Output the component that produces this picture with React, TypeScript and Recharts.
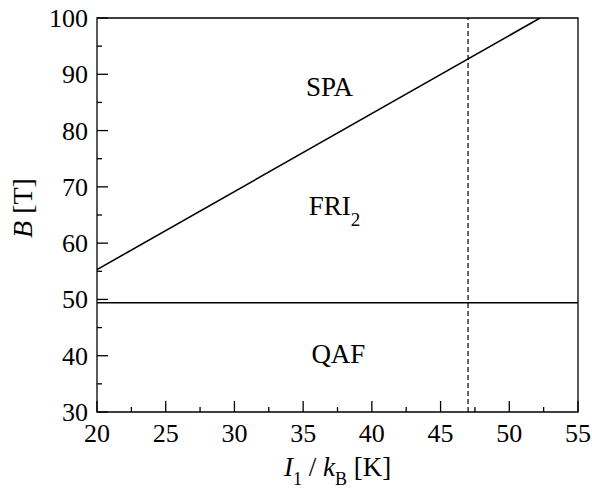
import {
  ComposedChart,
  Line,
  Scatter,
  XAxis,
  YAxis,
  ReferenceLine,
  ReferenceArea,
  Label,
} from "recharts";

// phase boundary FRI2 / SPA
const boundaryI = [20, 52.24];
const boundaryB = [55.3, 100];
// QAF / FRI2 boundary and the dashed marker
const qafLevelB = 49.4;
const dashedI = 47;

const regionNames = ["SPA", "FRI", "QAF"];
const regionSubs = ["", "2", ""];
const regionI = [35.2, 35.4, 35.6];
const regionB = [86.1, 65.0, 38.7];

const xTicks = [20, 22.5, 25, 27.5, 30, 32.5, 35, 37.5, 40, 42.5, 45, 47.5, 50, 52.5, 55];
const yTicks = [30, 35, 40, 45, 50, 55, 60, 65, 70, 75, 80, 85, 90, 95, 100];

const FONT = "'Times New Roman', 'Liberation Serif', Tinos, 'DejaVu Serif', serif";
const txt = (size: number) => ({ fontFamily: FONT, fontSize: size, fill: "#000" });

const lineData = boundaryI.map((i, k) => ({ i, b: boundaryB[k] }));
const labelData = regionNames.map((name, k) => ({
  name,
  sub: regionSubs[k],
  i: regionI[k],
  b: regionB[k],
}));

function XTick({ x, y, payload }: any) {
  const v = payload.value;
  const major = v % 5 === 0;
  return (
    <g>
      <line x1={x} x2={x} y1={y} y2={y - (major ? 11 : 5)} stroke="#000" strokeWidth={1.3} />
      {major && (
        <text x={x} y={y + 30} textAnchor="middle" style={txt(26)}>
          {v}
        </text>
      )}
    </g>
  );
}

function YTick({ x, y, payload }: any) {
  const v = payload.value;
  const major = v % 10 === 0;
  return (
    <g>
      <line x1={x} x2={x + (major ? 11 : 5)} y1={y} y2={y} stroke="#000" strokeWidth={1.3} />
      {major && (
        <text x={x - 9} y={y + 9} textAnchor="end" style={txt(26)}>
          {v}
        </text>
      )}
    </g>
  );
}

function RegionLabel({ cx, cy, payload }: any) {
  return (
    <text x={cx} y={cy} style={txt(27)}>
      {payload.name}
      {payload.sub && (
        <tspan dy={11} style={{ fontSize: 19 }}>
          {payload.sub}
        </tspan>
      )}
    </text>
  );
}

function XTitle({ viewBox }: any) {
  const cx = viewBox.x + viewBox.width / 2;
  const y = viewBox.y + 64;
  return (
    <text x={cx} y={y} textAnchor="middle" style={txt(27)}>
      <tspan fontStyle="italic">I</tspan>
      <tspan style={{ fontSize: 18 }} dy={9}>1</tspan>
      <tspan dy={-9}> / </tspan>
      <tspan fontStyle="italic">k</tspan>
      <tspan style={{ fontSize: 18 }} dy={9}>B</tspan>
      <tspan dy={-9}> [K]</tspan>
    </text>
  );
}

function YTitle({ viewBox }: any) {
  const cx = viewBox.x + 22;
  const cy = viewBox.y + viewBox.height / 2 - 7;
  return (
    <text
      x={cx}
      y={cy}
      transform={`rotate(-90, ${cx}, ${cy})`}
      textAnchor="middle"
      dominantBaseline="central"
      style={txt(28)}
    >
      <tspan fontStyle="italic">B</tspan> [T]
    </text>
  );
}

export default function App() {
  return (
    <div style={{ position: "fixed", left: 0, top: 0, width: 592, height: 491, background: "#fff" }}>
      <ComposedChart
        width={592}
        height={491}
        data={lineData}
        margin={{ top: 18, right: 14, bottom: 0, left: 0 }}
      >
        <XAxis
          dataKey="i"
          type="number"
          domain={[20, 55]}
          ticks={xTicks}
          interval={0}
          allowDataOverflow
          axisLine={false}
          tickLine={false}
          tickSize={0}
          tickMargin={0}
          tick={<XTick />}
          height={79}
        >
          <Label content={<XTitle />} />
        </XAxis>
        <YAxis
          type="number"
          domain={[30, 100]}
          ticks={yTicks}
          interval={0}
          allowDataOverflow
          axisLine={false}
          tickLine={false}
          tickSize={0}
          tickMargin={0}
          tick={<YTick />}
          width={97}
        >
          <Label content={<YTitle />} />
        </YAxis>
        <ReferenceArea x1={20} x2={55} y1={30} y2={100} fill="none" stroke="#000" strokeWidth={1.3} />
        <ReferenceLine y={qafLevelB} stroke="#000" strokeWidth={1.5} />
        <ReferenceLine x={dashedI} stroke="#000" strokeWidth={1.2} strokeDasharray="5 3" />
        <Line
          dataKey="b"
          type="linear"
          stroke="#000"
          strokeWidth={1.6}
          dot={false}
          isAnimationActive={false}
        />
        <Scatter
          data={labelData}
          dataKey="b"
          shape={<RegionLabel />}
          isAnimationActive={false}
        />
      </ComposedChart>
    </div>
  );
}
